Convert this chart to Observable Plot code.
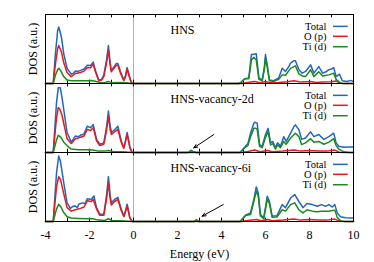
<!DOCTYPE html>
<html>
<head>
<meta charset="utf-8">
<script src="https://cdn.jsdelivr.net/npm/d3@7"></script>
<script src="https://cdn.jsdelivr.net/npm/@observablehq/plot@0.6"></script>
<style>
  html, body { margin: 0; padding: 0; background: white; }
  #chart { width: 374px; height: 262px; }
</style>
</head>
<body>
<div id="chart"></div>
<script>
// ---- data (energy in eV, DOS in arbitrary units) ----
const panels = ["HNS", "HNS-vacancy-2d", "HNS-vacancy-6i"];
const seriesNames = ["Total", "O (p)", "Ti (d)"];
const seriesColors = ["#2166c4", "#e41a1c", "#1a8a1a"];
const xTickLabels = [-4, -2, 0, 2, 4, 6, 8, 10];

const hnsTotal = [[-4,0],[-3.65,0],[-3.55,4.3],[-3.45,7.6],[-3.40,8.2],[-3.33,7.4],[-3.27,6.6],[-3.17,4.3],[-3.02,2.2],[-2.83,1.35],[-2.72,1.5],[-2.64,1.8],[-2.52,1.75],[-2.41,1.9],[-2.25,2.1],[-2.1,2.65],[-1.95,2.6],[-1.83,3.1],[-1.73,1.9],[-1.58,0.5],[-1.45,0.6],[-1.35,1.2],[-1.22,3.5],[-1.14,5.5],[-1.06,3.0],[-1.01,1.9],[-0.89,2.4],[-0.78,2.9],[-0.71,2.9],[-0.59,1.7],[-0.44,0.5],[-0.36,1.2],[-0.29,2.3],[-0.2,1.2],[-0.12,0.3],[-0.05,0],[4.8,0],[4.9,0.2],[5.06,0.7],[5.24,0.8],[5.36,4.2],[5.47,4.25],[5.58,4.3],[5.70,0.8],[5.85,0.5],[5.95,2.5],[6.0,4.2],[6.08,2.7],[6.18,0.5],[6.38,0.4],[6.6,0.8],[6.76,2.2],[6.91,1.75],[7.05,2.4],[7.14,2.95],[7.3,3.3],[7.36,3.3],[7.52,2.0],[7.67,1.5],[7.82,1.75],[8.05,2.7],[8.2,1.5],[8.42,2.45],[8.6,1.5],[8.75,1.7],[8.88,2.0],[9.0,2.1],[9.1,2.3],[9.21,1.0],[9.36,1.35],[9.49,0.4],[9.71,0.3],[9.86,0.45],[10,0.3]];
const hnsO = [[-4,0],[-3.65,0],[-3.55,2.8],[-3.45,5.0],[-3.40,5.5],[-3.33,5.0],[-3.27,4.5],[-3.17,3.0],[-3.02,1.6],[-2.83,1.0],[-2.64,1.45],[-2.41,1.6],[-2.25,1.8],[-2.1,2.3],[-1.95,2.3],[-1.83,2.8],[-1.73,1.7],[-1.58,0.4],[-1.45,0.5],[-1.35,1.0],[-1.22,3.1],[-1.14,4.8],[-1.06,2.7],[-1.01,1.7],[-0.89,2.2],[-0.78,2.65],[-0.71,2.65],[-0.59,1.5],[-0.44,0.4],[-0.36,1.0],[-0.29,2.1],[-0.2,1.1],[-0.12,0.3],[-0.05,0],[4.9,0],[5.2,0.15],[5.5,0.3],[5.75,0.1],[6.0,0.3],[6.2,0.1],[6.6,0.15],[7.0,0.25],[7.3,0.4],[7.6,0.2],[8.05,0.3],[8.3,0.15],[8.6,0.2],[9.0,0.25],[9.2,0.35],[9.4,0.05],[9.6,0],[10,0]];
const hnsTi = [[-4,0],[-3.65,0],[-3.55,1.2],[-3.45,2.0],[-3.40,2.2],[-3.3,1.8],[-3.17,1.0],[-3.02,0.5],[-2.83,0.4],[-2.5,0.4],[-2.2,0.4],[-1.9,0.45],[-1.7,0.3],[-1.5,0.15],[-1.3,0.1],[-1.14,0.3],[-1.0,0.1],[-0.7,0.15],[-0.3,0.1],[-0.1,0],[4.8,0],[4.9,0.2],[5.06,0.68],[5.24,0.7],[5.36,3.4],[5.47,3.8],[5.58,3.4],[5.70,0.6],[5.85,0.4],[5.95,2.0],[6.0,3.7],[6.08,2.3],[6.18,0.4],[6.38,0.3],[6.6,0.6],[6.76,1.25],[6.91,1.2],[7.14,2.2],[7.36,2.55],[7.52,1.4],[7.67,1.1],[7.82,1.0],[8.05,2.0],[8.2,1.0],[8.42,1.7],[8.6,1.1],[8.88,1.25],[9.1,1.5],[9.21,0.6],[9.36,0.2],[9.49,0],[10,0]];

const v2dTotal = [[-4,0],[-3.65,0],[-3.5,7.2],[-3.42,9.4],[-3.33,9.4],[-3.25,8.0],[-3.17,6.2],[-3.02,2.9],[-2.83,1.5],[-2.72,2.0],[-2.64,2.4],[-2.5,2.3],[-2.41,2.5],[-2.25,2.7],[-2.1,3.8],[-1.95,3.6],[-1.83,4.05],[-1.68,1.9],[-1.53,1.2],[-1.35,1.4],[-1.22,3.8],[-1.14,6.0],[-1.06,3.8],[-1.0,2.9],[-0.86,3.3],[-0.71,3.8],[-0.56,1.7],[-0.44,0.7],[-0.36,1.8],[-0.29,2.9],[-0.2,1.5],[-0.17,0.85],[-0.08,0.1],[-0.03,0],[2.5,0],[2.62,0.3],[2.72,0.1],[2.85,0],[4.85,0],[5.09,0.9],[5.2,1.3],[5.32,2.8],[5.47,4.25],[5.52,4.4],[5.62,4.25],[5.73,1.15],[5.85,0.9],[6.0,2.6],[6.12,3.5],[6.23,1.4],[6.33,1.6],[6.45,0.7],[6.55,1.4],[6.68,0.9],[6.83,2.3],[6.94,1.6],[7.14,2.8],[7.3,3.8],[7.36,4.0],[7.52,3.3],[7.64,1.9],[7.82,2.1],[8.05,3.0],[8.2,2.3],[8.42,2.6],[8.65,1.9],[8.88,2.3],[9.1,2.8],[9.21,1.4],[9.33,0.9],[9.56,0.75],[9.79,0.8],[10,0.8]];
const v2dO = [[-4,0],[-3.65,0],[-3.5,5.0],[-3.42,6.5],[-3.35,6.3],[-3.25,5.4],[-3.17,4.2],[-3.02,2.0],[-2.83,1.3],[-2.64,2.0],[-2.41,2.2],[-2.25,2.4],[-2.1,3.35],[-1.95,3.2],[-1.83,3.6],[-1.68,1.7],[-1.53,1.0],[-1.35,1.2],[-1.22,3.3],[-1.14,5.3],[-1.06,3.3],[-1.0,2.6],[-0.86,3.0],[-0.71,3.35],[-0.56,1.5],[-0.44,0.6],[-0.36,1.6],[-0.29,2.6],[-0.2,1.3],[-0.17,0.7],[-0.08,0.1],[-0.03,0],[4.9,0],[5.2,0.15],[5.5,0.35],[5.75,0.1],[6.1,0.3],[6.3,0.1],[6.8,0.2],[7.3,0.35],[7.6,0.2],[8.0,0.3],[8.4,0.2],[8.8,0.2],[9.15,0.35],[9.35,0.05],[9.6,0],[10,0]];
const v2dTi = [[-4,0],[-3.65,0],[-3.5,1.8],[-3.42,2.5],[-3.3,2.2],[-3.17,1.5],[-3.02,1.0],[-2.83,0.5],[-2.5,0.4],[-2.1,0.4],[-1.85,0.35],[-1.6,0.2],[-1.3,0.2],[-1.14,0.3],[-0.9,0.1],[-0.5,0.1],[-0.2,0.05],[-0.05,0],[2.5,0],[2.62,0.3],[2.72,0.1],[2.85,0],[4.85,0],[5.09,0.8],[5.2,1.0],[5.32,2.3],[5.47,3.5],[5.55,3.5],[5.62,3.4],[5.73,0.9],[5.85,0.7],[6.0,2.2],[6.12,3.0],[6.23,1.1],[6.33,1.3],[6.45,0.5],[6.55,1.1],[6.68,0.7],[6.83,1.6],[6.94,1.2],[7.14,2.1],[7.36,2.8],[7.52,2.3],[7.64,1.15],[7.82,1.4],[8.05,2.0],[8.2,1.5],[8.42,1.6],[8.65,1.2],[8.88,1.5],[9.1,2.0],[9.21,1.0],[9.33,0.5],[9.56,0.1],[9.8,0],[10,0]];

const v6iTotal = [[-4,0],[-3.65,0],[-3.5,7.0],[-3.40,9.5],[-3.32,8.7],[-3.17,5.6],[-3.02,2.7],[-2.87,1.9],[-2.75,2.2],[-2.64,2.25],[-2.55,2.0],[-2.49,2.5],[-2.33,2.7],[-2.2,2.6],[-2.1,3.3],[-1.92,3.2],[-1.8,3.7],[-1.68,2.0],[-1.53,1.05],[-1.35,1.05],[-1.22,3.9],[-1.14,6.5],[-1.06,3.8],[-1.01,2.7],[-0.86,3.2],[-0.71,3.5],[-0.56,1.8],[-0.44,0.8],[-0.36,1.6],[-0.29,2.5],[-0.2,1.2],[-0.17,0.6],[-0.08,0.1],[-0.03,0],[2.75,0],[2.86,0.25],[2.97,0],[4.85,0],[5.09,0.9],[5.32,1.25],[5.47,3.2],[5.58,5.0],[5.67,4.15],[5.77,1.0],[5.92,0.5],[6.08,3.65],[6.18,2.9],[6.3,0.8],[6.52,0.85],[6.76,2.45],[6.91,2.0],[7.14,3.4],[7.33,3.9],[7.52,2.9],[7.70,2.0],[7.89,2.6],[8.12,2.45],[8.35,2.2],[8.55,2.45],[8.73,2.2],[8.88,2.45],[9.03,2.1],[9.15,2.45],[9.26,1.25],[9.41,0.7],[9.64,0.55],[10,0.5]];
const v6iO = [[-4,0],[-3.65,0],[-3.5,5.0],[-3.40,6.5],[-3.32,6.1],[-3.17,4.0],[-3.02,2.0],[-2.83,1.5],[-2.64,1.7],[-2.41,1.9],[-2.25,2.1],[-2.1,3.0],[-1.92,2.9],[-1.83,3.2],[-1.68,1.8],[-1.53,0.9],[-1.35,0.9],[-1.22,3.4],[-1.14,5.6],[-1.06,3.3],[-1.01,2.4],[-0.86,2.9],[-0.71,3.2],[-0.56,1.6],[-0.44,0.7],[-0.36,1.4],[-0.29,2.25],[-0.2,1.0],[-0.17,0.5],[-0.08,0.1],[-0.03,0],[4.9,0],[5.2,0.15],[5.6,0.3],[5.8,0.1],[6.1,0.3],[6.3,0.1],[6.8,0.2],[7.3,0.35],[7.6,0.2],[8.0,0.3],[8.4,0.2],[8.8,0.2],[9.15,0.35],[9.35,0.05],[9.6,0],[10,0]];
const v6iTi = [[-4,0],[-3.65,0],[-3.5,1.8],[-3.40,2.5],[-3.3,2.1],[-3.17,1.3],[-3.02,0.7],[-2.83,0.5],[-2.5,0.45],[-2.1,0.4],[-1.85,0.4],[-1.6,0.2],[-1.3,0.15],[-1.14,0.4],[-1.0,0.15],[-0.6,0.1],[-0.2,0.05],[-0.05,0],[2.75,0],[2.86,0.25],[2.97,0],[4.85,0],[5.09,0.85],[5.32,1.0],[5.47,2.9],[5.58,4.4],[5.67,3.7],[5.77,0.8],[5.92,0.4],[6.08,3.2],[6.18,2.6],[6.3,0.6],[6.52,0.65],[6.76,1.7],[6.91,1.5],[7.14,2.45],[7.33,2.7],[7.52,1.7],[7.70,1.25],[7.89,1.7],[8.12,1.5],[8.35,1.4],[8.55,1.5],[8.88,1.5],[9.15,1.65],[9.26,0.6],[9.41,0.1],[9.6,0],[10,0]];

// arrows pointing at the defect states: [panel, x1, y1, x2, y2]
const defectArrows = [["HNS-vacancy-2d", 3.65, 2.6, 2.74, 0.67], ["HNS-vacancy-6i", 4.08, 2.45, 3.12, 0.77]];

// ---- build table ----
const seriesByPanel = [[hnsTotal, hnsO, hnsTi], [v2dTotal, v2dO, v2dTi], [v6iTotal, v6iO, v6iTi]];
const rows = [];
panels.forEach((p, pi) => seriesByPanel[pi].forEach((arr, si) =>
  arr.forEach(([E, v]) => rows.push({panel: p, series: seriesNames[si], E, v}))));
const arrows = defectArrows.map(([panel, x1, y1, x2, y2]) => ({panel, x1, y1, x2, y2}));

// legend layout (annotation, in data units)
const legTextX = 8.77, legX1 = 9.09, legX2 = 9.76;
const legY = [8.28, 6.84, 5.33];
const legendRows = [];
panels.forEach(p => seriesNames.forEach((s, i) => legendRows.push({panel: p, series: s, y: legY[i]})));

const facetH = (262 - 13 - 40) / 3;
const font = "'Liberation Serif', 'DejaVu Serif', serif";

const chart = Plot.plot({
  width: 374, height: 262,
  marginLeft: 45, marginRight: 21, marginTop: 13, marginBottom: 40,
  style: {fontFamily: font, fontSize: "12px", background: "white", color: "black"},
  fy: {domain: panels, padding: 0, axis: null, label: null},
  x: {domain: [-4, 10], ticks: xTickLabels, tickSize: 0, tickPadding: 9,
      tickFormat: d => String(d), label: "Energy (eV)", labelArrow: "none", labelAnchor: "center", labelOffset: 36},
  y: {domain: [0, 10], axis: null},
  color: {domain: seriesNames, range: seriesColors},
  marks: [
    Plot.ruleX([0], {stroke: "#b0b0b0", strokeWidth: 1}),
    Plot.tickX(d3.range(-4, 11), {x: d => d, insetTop: facetH - 4, stroke: "black"}),
    Plot.tickX(d3.range(-4, 11), {x: d => d, insetBottom: facetH - 4, stroke: "black"}),
    Plot.line(rows, {x: "E", y: "v", z: "series", stroke: "series", fy: "panel", strokeWidth: 1.5}),
    Plot.arrow(arrows, {x1: "x1", y1: "y1", x2: "x2", y2: "y2", fy: "panel", stroke: "black", strokeWidth: 1, headLength: 6, headAngle: 45}),
    Plot.text(panels, {fy: d => d, text: d => d, frameAnchor: "top-left", dx: 125, dy: 11, textAnchor: "start", fontSize: 12}),
    Plot.text(panels, {fy: d => d, text: () => "DOS (a.u.)", frameAnchor: "left", textAnchor: "middle", dx: -12, rotate: -90, fontSize: 12}),
    Plot.text(legendRows, {fy: "panel", x: () => legTextX, y: "y", text: "series", textAnchor: "end", fontSize: 10.5}),
    Plot.ruleY(legendRows, {fy: "panel", y: "y", x1: () => legX1, x2: () => legX2, stroke: "series", strokeWidth: 1.5}),
    Plot.frame({stroke: "black", strokeWidth: 1})
  ]
});
document.getElementById("chart").appendChild(chart);
</script>
</body>
</html>
